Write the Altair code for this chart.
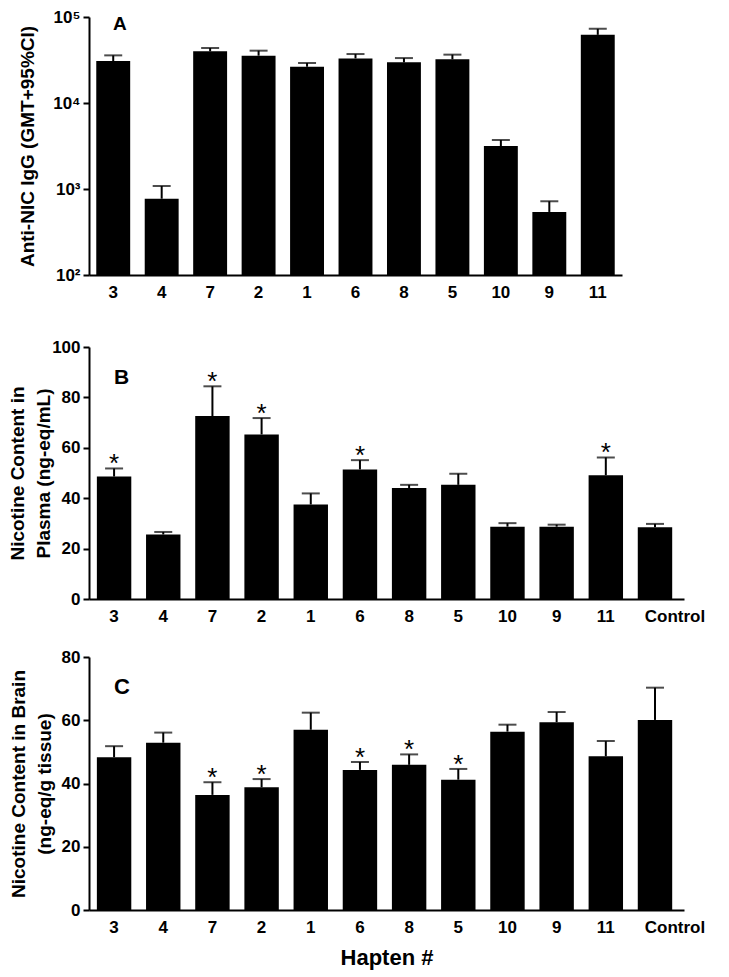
import altair as alt
import pandas as pd

# ---------------- data ----------------
haptens = ["3", "4", "7", "2", "1", "6", "8", "5", "10", "9", "11"]
groups_bc = haptens + ["Control"]

# Panel A: anti-NIC IgG, GMT and upper 95% CI
igg_gmt = [30800, 771, 39900, 35500, 26400, 33000, 29700, 32200, 3160, 541, 62000]
igg_upper = [35800, 1084, 43600, 40600, 29200, 37100, 33300, 36500, 3715, 720, 72800]

# Panel B: nicotine in plasma (mean, mean+SEM)
plasma_mean = [48.6, 25.6, 72.6, 65.3, 37.5, 51.4, 44.0, 45.3, 28.7, 28.7, 49.1, 28.5]
plasma_upper = [51.8, 26.6, 84.4, 71.8, 41.9, 55.1, 45.3, 49.7, 30.1, 29.5, 56.2, 29.8]
plasma_sig = [True, False, True, True, False, True, False, False, False, False, True, False]

# Panel C: nicotine in brain (mean, mean+SEM)
brain_mean = [48.3, 52.9, 36.4, 38.8, 57.0, 44.3, 45.9, 41.2, 56.4, 59.4, 48.6, 60.1]
brain_upper = [51.8, 56.1, 40.4, 41.4, 62.4, 46.8, 49.2, 44.6, 58.6, 62.6, 53.4, 70.3]
brain_sig = [False, False, True, True, False, True, True, True, False, False, False, False]

a_tick_values = [100, 1000, 10000, 100000]
a_tick_labels = ["10²", "10³", "10⁴", "10⁵"]
b_tick_values = [0, 20, 40, 60, 80, 100]
c_tick_values = [0, 20, 40, 60, 80]
panel_letters = ["A", "B", "C"]
titles = {
    "A": "Anti-NIC IgG (GMT+95%CI)",
    "B": ["Nicotine Content in", "Plasma (ng-eq/mL)"],
    "C": ["Nicotine Content in Brain", "(ng-eq/g tissue)"],
}
x_title = "Hapten #"

FONT = "Liberation Sans"

dfA = pd.DataFrame({"hapten": haptens, "v": igg_gmt, "upper": igg_upper})
dfB = pd.DataFrame({"hapten": groups_bc, "v": plasma_mean, "upper": plasma_upper, "sig": plasma_sig})
dfC = pd.DataFrame({"hapten": groups_bc, "v": brain_mean, "upper": brain_upper, "sig": brain_sig})

label_expr_a = " : ".join(
    f"datum.value == {v} ? '{l}'" for v, l in zip(a_tick_values[:-1], a_tick_labels[:-1])
) + f" : '{a_tick_labels[-1]}'"


def x_axis(title=None):
    kw = dict(
        title=title, labelAngle=0, ticks=False, domainWidth=2, domainColor="black",
        labelFontSize=17, labelFontWeight="bold", labelFont=FONT, labelPadding=9,
        labelColor="black",
        labelOffset={"condition": {"test": "datum.value == 'Control'", "value": 20}, "value": 0},
    )
    if title is not None:
        kw.update(titleFontSize=22, titleFontWeight="bold", titleFont=FONT, titlePadding=12,
                  titleColor="black")
    return alt.Axis(**kw)


def y_axis(title, values, title_pad, label_expr=None):
    kw = dict(
        title=title, values=values, grid=False, domainWidth=2, domainColor="black",
        tickSize=6, tickWidth=2, tickColor="black", labelFontSize=17, labelFontWeight="bold",
        labelFont=FONT, labelColor="black", labelPadding=3, titleFontSize=19,
        titleFontWeight="bold", titleFont=FONT, titleColor="black", titlePadding=title_pad,
        titleLineHeight=26,
    )
    if label_expr is not None:
        kw["labelExpr"] = label_expr
    return alt.Axis(**kw)


def panel(df, order, xscale, xax, yenc_kwargs, baseline_value, width, height,
          letter, letter_pos, letter_size):
    base = alt.Chart(df)
    x = alt.X("hapten:N", sort=order, scale=xscale, axis=xax)
    y = alt.Y("v:Q", **yenc_kwargs)
    bars = base.mark_bar(color="black").encode(x=x, y=y, y2=alt.datum(baseline_value))
    rule = base.mark_rule(color="black", strokeWidth=2).encode(
        x=alt.X("hapten:N", sort=order), y="v:Q", y2="upper:Q")
    cap = base.mark_tick(color="black", thickness=2, size=18).encode(
        x=alt.X("hapten:N", sort=order), y="upper:Q")
    layers = [bars, rule, cap]
    if "sig" in df.columns:
        stars = base.transform_filter("datum.sig").mark_text(
            text="*", fontSize=26, font=FONT, baseline="alphabetic", color="black", dy=4
        ).encode(x=alt.X("hapten:N", sort=order), y="upper:Q")
        layers.append(stars)
    lt = alt.Chart(pd.DataFrame({"t": [letter]})).mark_text(
        fontSize=letter_size, fontWeight="bold", font=FONT, align="left",
        baseline="alphabetic", color="black"
    ).encode(text="t:N", x=alt.value(letter_pos[0]), y=alt.value(letter_pos[1]))
    layers.append(lt)
    return alt.layer(*layers).properties(width=width, height=height)


chartA = panel(
    dfA, haptens,
    alt.Scale(paddingInner=0.3, paddingOuter=0.15),
    x_axis(),
    dict(scale=alt.Scale(type="log", domain=[100, 100000], nice=False),
         axis=y_axis(titles["A"], a_tick_values, 15, label_expr_a)),
    a_tick_values[0],
    533, 258, panel_letters[0], (24, 13), 19,
)

chartB = panel(
    dfB, groups_bc,
    alt.Scale(paddingInner=0.3, paddingOuter=0.2, align=0.4),
    x_axis(),
    dict(scale=alt.Scale(domain=[0, 100], nice=False, range=[266, 14]),
         axis=y_axis(titles["B"], b_tick_values, -2)),
    b_tick_values[0],
    595, 266, panel_letters[1], (25, 51), 21,
)

chartC = panel(
    dfC, groups_bc,
    alt.Scale(paddingInner=0.3, paddingOuter=0.2, align=0.4),
    x_axis(x_title),
    dict(scale=alt.Scale(domain=[0, 80], nice=False),
         axis=y_axis(titles["C"], c_tick_values, 7)),
    c_tick_values[0],
    595, 253, panel_letters[2], (25, 37), 22,
)

chart = alt.vconcat(chartA, chartB, chartC, spacing=58, bounds="flush").properties(
    padding={"left": 0, "top": 0, "right": 5, "bottom": 2},
    background="white",
).configure_view(strokeWidth=0, stroke=None)

chart.save("out.html", embed_options={"renderer": "svg", "actions": False})
